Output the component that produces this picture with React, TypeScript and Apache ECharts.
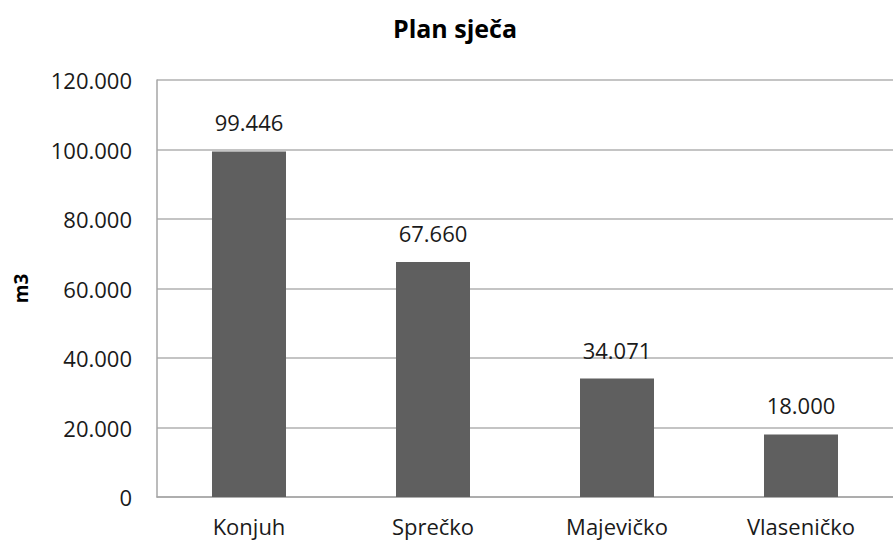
import React, { useEffect, useRef } from "react";
import * as echarts from "echarts";

const categories = ["Konjuh", "Sprečko", "Majevičko", "Vlaseničko"];
const values = [99446, 67660, 34071, 18000];
const yTicks = [0, 20000, 40000, 60000, 80000, 100000, 120000];
const titleText = "Plan sječa";
const yName = "m3";

const fmt = (v: number) => {
  const s = Math.round(v).toString();
  return s.replace(/\B(?=(\d{3})+(?!\d))/g, ".");
};

export default function App() {
  const ref = useRef<HTMLDivElement>(null);
  useEffect(() => {
    if (!ref.current) return;
    const chart = echarts.init(ref.current, null, { renderer: "svg" });
    const font = "'Open Sans', sans-serif";
    chart.setOption({
      animation: false,
      textStyle: { fontFamily: font },
      title: {
        text: titleText,
        left: 450,
        textAlign: "center",
        top: 10,
        textStyle: { fontFamily: font, fontSize: 25, fontWeight: "bold", color: "#000" },
      },
      grid: { left: 157, right: -8, top: 80, bottom: 46, containLabel: false },
      xAxis: {
        type: "category",
        data: categories,
        axisLine: { lineStyle: { color: "#a6a6a6", width: 1.5 } },
        axisTick: { show: false },
        axisLabel: { fontFamily: font, fontSize: 22, color: "#1a1a1a", margin: 18 },
      },
      yAxis: {
        type: "value",
        min: yTicks[0],
        max: yTicks[yTicks.length - 1],
        interval: 20000,
        name: yName,
        nameLocation: "middle",
        nameGap: 127,
        nameTextStyle: { fontFamily: font, fontSize: 19, fontWeight: "bold", color: "#000" },
        axisLine: { show: true, lineStyle: { color: "#a6a6a6", width: 1.5 } },
        axisTick: { show: false },
        splitLine: { show: true, lineStyle: { color: "#b0b0b0", width: 1.5 } },
        axisLabel: { fontFamily: font, fontSize: 22, color: "#1a1a1a", margin: 25, formatter: (v: number) => fmt(v) },
      },
      series: [
        {
          type: "bar",
          data: values,
          barWidth: 74,
          itemStyle: { color: "#5f5f5f" },
          label: {
            show: true,
            position: "top",
            distance: 18,
            fontFamily: font,
            fontSize: 22,
            color: "#1a1a1a",
            formatter: (p: any) => fmt(p.value),
          },
        },
      ],
    });
    return () => chart.dispose();
  }, []);
  return (
    <div
      ref={ref}
      style={{ position: "fixed", left: 0, top: 0, width: 893, height: 543, background: "#fff" }}
    />
  );
}
